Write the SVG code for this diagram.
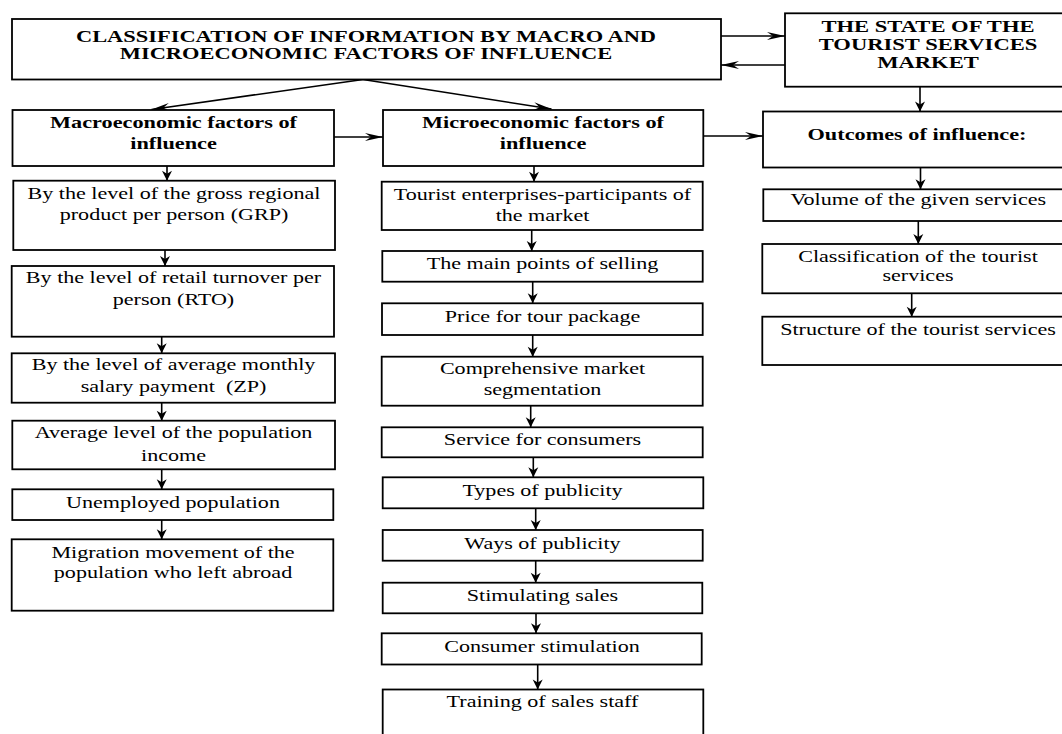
<svg xmlns="http://www.w3.org/2000/svg" width="1062" height="734" viewBox="0 0 1062 734">
<style>
.box{fill:#fff;stroke:#000;stroke-width:1.8}
.t{font-family:"Liberation Serif","Times New Roman",serif;font-size:16px;fill:#000;text-anchor:middle}
.b{font-weight:bold;font-size:16.5px}
.c{fill:none;stroke:#000;stroke-width:1.6}
.h{marker-end:url(#ah)}
.v{marker-end:url(#av)}
</style>
<defs>
<marker id="ah" viewBox="-20 -6 21 12" refX="0" refY="0" markerWidth="21" markerHeight="12" markerUnits="userSpaceOnUse" orient="auto"><path d="M0,0 L-18,-4 L-12,0 L-18,4 Z" fill="#000"/></marker>
<marker id="av" viewBox="-12 -7 13 14" refX="0" refY="0" markerWidth="13" markerHeight="14" markerUnits="userSpaceOnUse" orient="auto"><path d="M0,0 L-10,-5 L-7,0 L-10,5 Z" fill="#000"/></marker>
</defs>
<rect width="1062" height="734" fill="#fff"/>

<g id="connectors">
<path class="c h" d="M721,36 L785,36"/>
<path class="c h" d="M785,65 L721,65"/>
<path class="c h" d="M363,79.5 L151.5,109.5"/>
<path class="c h" d="M363,79.5 L551.5,109"/>
<path class="c h" d="M334,137 L383,137"/>
<path class="c h" d="M703,136 L763,136"/>
<path class="c v" d="M920,87 L920,111.5"/>
<path class="c v" d="M167,166 L167,180.7"/>
<path class="c v" d="M165,250 L165,266"/>
<path class="c v" d="M161.7,336.7 L161.7,353.3"/>
<path class="c v" d="M161.7,402.7 L161.7,420.7"/>
<path class="c v" d="M161.7,469.3 L161.7,489.3"/>
<path class="c v" d="M161.7,520 L161.7,539.3"/>
<path class="c v" d="M534,166 L534,181.7"/>
<path class="c v" d="M531.7,230 L531.7,251"/>
<path class="c v" d="M532.7,281.7 L532.7,303.3"/>
<path class="c v" d="M532.7,335 L532.7,356.7"/>
<path class="c v" d="M530.7,405.7 L530.7,427.3"/>
<path class="c v" d="M533.3,457.3 L533.3,477.3"/>
<path class="c v" d="M535.7,508.3 L535.7,530"/>
<path class="c v" d="M535.7,560.7 L535.7,582.7"/>
<path class="c v" d="M536,613.3 L536,633.3"/>
<path class="c v" d="M537.7,664.5 L537.7,689.5"/>
<path class="c v" d="M920.5,167.5 L920.5,189.3"/>
<path class="c v" d="M918.3,221 L918.3,244"/>
<path class="c v" d="M911.7,293.3 L911.7,316.7"/>
</g>

<g id="n-title">
<rect class="box" x="12" y="19" width="709" height="60.5"/>
<text class="t b" transform="translate(366 41.7) scale(1.36 1)"><tspan x="0">CLASSIFICATION OF INFORMATION BY MACRO AND</tspan><tspan x="0" y="17.6">MICROECONOMIC FACTORS OF INFLUENCE</tspan></text>
</g>
<g id="n-state">
<rect class="box" x="785" y="13.3" width="290" height="73.4"/>
<text class="t b" transform="translate(928 31.7) scale(1.37 1)"><tspan x="0">THE STATE OF THE</tspan><tspan x="0" y="18.3">TOURIST SERVICES</tspan><tspan x="0" y="36.6">MARKET</tspan></text>
</g>
<g id="n-macro">
<rect class="box" x="12.5" y="110" width="321.5" height="56"/>
<text class="t b" transform="translate(173.5 127.7) scale(1.35 1)"><tspan x="0">Macroeconomic factors of</tspan><tspan x="0" y="21.3">influence</tspan></text>
</g>
<g id="n-micro">
<rect class="box" x="383" y="110" width="320.3" height="56"/>
<text class="t b" transform="translate(543 127.7) scale(1.35 1)"><tspan x="0">Microeconomic factors of</tspan><tspan x="0" y="21.3">influence</tspan></text>
</g>
<g id="n-outcomes">
<rect class="box" x="763" y="111.5" width="312" height="56"/>
<text class="t b" transform="translate(917 140) scale(1.35 1)">Outcomes of influence:</text>
</g>

<g id="n-l1">
<rect class="box" x="13.3" y="180.7" width="321.7" height="69.3"/>
<text class="t" transform="translate(174 199.3) scale(1.38 1)"><tspan x="0">By the level of the gross regional</tspan><tspan x="0" y="20.7">product per person (GRP)</tspan></text>
</g>
<g id="n-l2">
<rect class="box" x="11.7" y="266" width="322.3" height="70.7"/>
<text class="t" transform="translate(173.5 283.3) scale(1.38 1)"><tspan x="0">By the level of retail turnover per</tspan><tspan x="0" y="21.7">person (RTO)</tspan></text>
</g>
<g id="n-l3">
<rect class="box" x="11.7" y="353.3" width="323.3" height="49.4"/>
<text class="t" xml:space="preserve" transform="translate(173.5 370) scale(1.38 1)"><tspan x="0">By the level of average monthly</tspan><tspan x="0" y="21.7">salary payment  (ZP)</tspan></text>
</g>
<g id="n-l4">
<rect class="box" x="12.3" y="420.7" width="322.7" height="48.6"/>
<text class="t" transform="translate(173.5 438.3) scale(1.38 1)"><tspan x="0">Average level of the population</tspan><tspan x="0" y="22.4">income</tspan></text>
</g>
<g id="n-l5">
<rect class="box" x="12.3" y="489.3" width="321" height="30.7"/>
<text class="t" transform="translate(173 508.3) scale(1.38 1)">Unemployed population</text>
</g>
<g id="n-l6">
<rect class="box" x="11.7" y="539.3" width="321.6" height="71.4"/>
<text class="t" transform="translate(173 558.3) scale(1.38 1)"><tspan x="0">Migration movement of the</tspan><tspan x="0" y="20">population who left abroad</tspan></text>
</g>

<g id="n-m1">
<rect class="box" x="381.7" y="181.7" width="321" height="48.3"/>
<text class="t" transform="translate(542.5 200) scale(1.38 1)"><tspan x="0">Tourist enterprises-participants of</tspan><tspan x="0" y="20.7">the market</tspan></text>
</g>
<g id="n-m2">
<rect class="box" x="382.3" y="251" width="320.4" height="30.7"/>
<text class="t" transform="translate(542.5 269) scale(1.38 1)">The main points of selling</text>
</g>
<g id="n-m3">
<rect class="box" x="382" y="303.3" width="320.7" height="31.7"/>
<text class="t" transform="translate(542.5 321.7) scale(1.38 1)">Price for tour package</text>
</g>
<g id="n-m4">
<rect class="box" x="381.7" y="356.7" width="321" height="49"/>
<text class="t" transform="translate(542.5 374) scale(1.38 1)"><tspan x="0">Comprehensive market</tspan><tspan x="0" y="21">segmentation</tspan></text>
</g>
<g id="n-m5">
<rect class="box" x="381.7" y="427.3" width="321" height="30"/>
<text class="t" transform="translate(542.5 444.5) scale(1.38 1)">Service for consumers</text>
</g>
<g id="n-m6">
<rect class="box" x="382.7" y="477.3" width="320.6" height="31"/>
<text class="t" transform="translate(542.5 495.5) scale(1.38 1)">Types of publicity</text>
</g>
<g id="n-m7">
<rect class="box" x="382.7" y="530" width="320" height="30.7"/>
<text class="t" transform="translate(542.5 548.5) scale(1.38 1)">Ways of publicity</text>
</g>
<g id="n-m8">
<rect class="box" x="382.7" y="582.7" width="319.6" height="30.6"/>
<text class="t" transform="translate(542.5 601) scale(1.38 1)">Stimulating sales</text>
</g>
<g id="n-m9">
<rect class="box" x="381.7" y="633.3" width="320" height="31.2"/>
<text class="t" transform="translate(542 651.7) scale(1.38 1)">Consumer stimulation</text>
</g>
<g id="n-m10">
<rect class="box" x="382.7" y="689.5" width="320.6" height="55"/>
<text class="t" transform="translate(542.5 706.7) scale(1.38 1)">Training of sales staff</text>
</g>

<g id="n-r1">
<rect class="box" x="763.3" y="189.3" width="312" height="31.7"/>
<text class="t" transform="translate(918.3 205) scale(1.38 1)">Volume of the given services</text>
</g>
<g id="n-r2">
<rect class="box" x="762.3" y="244" width="313" height="49.3"/>
<text class="t" transform="translate(918 261.7) scale(1.38 1)"><tspan x="0">Classification of the tourist</tspan><tspan x="0" y="19">services</tspan></text>
</g>
<g id="n-r3">
<rect class="box" x="762.3" y="316.7" width="313" height="48.3"/>
<text class="t" transform="translate(918 335) scale(1.38 1)">Structure of the tourist services</text>
</g>
</svg>
